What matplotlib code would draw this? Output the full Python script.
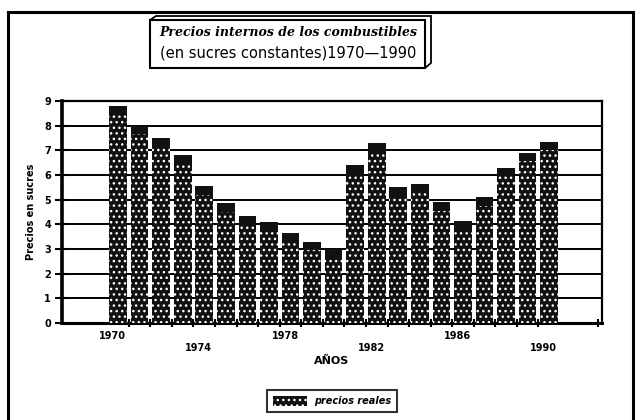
import matplotlib
matplotlib.use('Agg')
import matplotlib.pyplot as plt
from matplotlib.patches import Rectangle, Polygon

# datos
years = list(range(1970, 1991))
precios = [8.8, 8.0, 7.5, 6.8, 5.55, 4.85, 4.35, 4.1, 3.65, 3.3, 3.0,
           6.4, 7.3, 5.5, 5.65, 4.9, 4.15, 5.1, 6.3, 6.9, 7.35]
label_years = [1970, 1974, 1978, 1982, 1986, 1990]
label_text = ['1970', '\n1974', '1978', '\n1982', '1986', '\n1990']
y_ticks = list(range(0, 10))

W, H = 636, 420
fig = plt.figure(figsize=(W / 100, H / 100), dpi=100)
fig.patch.set_facecolor('white')

def fx(px):
    return px / W

def fy(py):
    return 1 - py / H

ax = fig.add_axes([fx(62), fy(323), fx(602) - fx(62), fy(101) - fy(323)])

# barras con textura punteada
ax.bar(years, precios, width=0.82, color='#111111', edgecolor='white',
       linewidth=0, hatch='...', zorder=3, label='precios reales')
# remate oscuro arriba de cada barra
cap = 0.35
ax.bar(years, [cap] * len(precios), bottom=[p - cap for p in precios],
       width=0.82, color='#111111', linewidth=0, zorder=4)

ax.set_xlim(1967.4, 1992.45)
ax.set_ylim(0, 9)
ax.set_yticks(y_ticks)
ax.yaxis.grid(True, color='black', linewidth=1.4)
ax.set_axisbelow(True)

ax.set_xticks([y - 0.25 for y in label_years])
ax.set_xticklabels(label_text, fontsize=7, fontweight='bold', va='top')
ax.set_xticks([y + 0.5 for y in years[:-1]] + [1992.25], minor=True)
ax.tick_params(axis='x', which='major', length=0, pad=6)
ax.tick_params(axis='x', which='minor', direction='inout', length=6, width=1.5)
ax.tick_params(axis='y', direction='inout', length=10, width=1.5,
               labelsize=7, pad=3)
for t in ax.get_yticklabels():
    t.set_fontweight('bold')

for s in ax.spines.values():
    s.set_linewidth(1.6)
ax.spines['left'].set_linewidth(2.6)
ax.spines['bottom'].set_linewidth(2.2)

ax.set_xlabel('AÑOS', fontsize=8, fontweight='bold', labelpad=2)
ax.set_ylabel('Precios en sucres', fontsize=7, fontweight='bold', labelpad=6)

# marco exterior
fig.patches.append(Rectangle((fx(8), fy(425)), fx(633) - fx(8), fy(12) - fy(425),
                             transform=fig.transFigure, fill=False,
                             edgecolor='black', linewidth=2.2))

# caja del titulo con efecto 3D
fig.patches.append(Polygon([(fx(425), fy(68)), (fx(431), fy(63)), (fx(431), fy(16)),
                            (fx(156), fy(16)), (fx(150), fy(20)), (fx(425), fy(20))],
                           closed=True, transform=fig.transFigure,
                           facecolor='white', edgecolor='black', linewidth=1.3))
fig.patches.append(Rectangle((fx(150), fy(68)), fx(425) - fx(150), fy(20) - fy(68),
                             transform=fig.transFigure, facecolor='white',
                             edgecolor='black', linewidth=1.5))
fig.text(fx(288), fy(33), 'Precios internos de los combustibles', ha='center',
         va='center', fontsize=9, style='italic', fontweight='bold',
         family='DejaVu Serif')
fig.text(fx(288), fy(53), '(en sucres constantes)1970\u20141990', ha='center',
         va='center', fontsize=10.5, family='DejaVu Sans')

leg = fig.legend(loc='center', bbox_to_anchor=(fx(332), fy(401)), fontsize=7,
                 frameon=True, fancybox=False, edgecolor='black',
                 handlelength=3.5, handleheight=1.2, borderpad=0.6)
leg.get_frame().set_linewidth(1.5)
for t in leg.get_texts():
    t.set_fontstyle('italic')
    t.set_fontweight('bold')

fig.savefig('out.png', dpi=100)
